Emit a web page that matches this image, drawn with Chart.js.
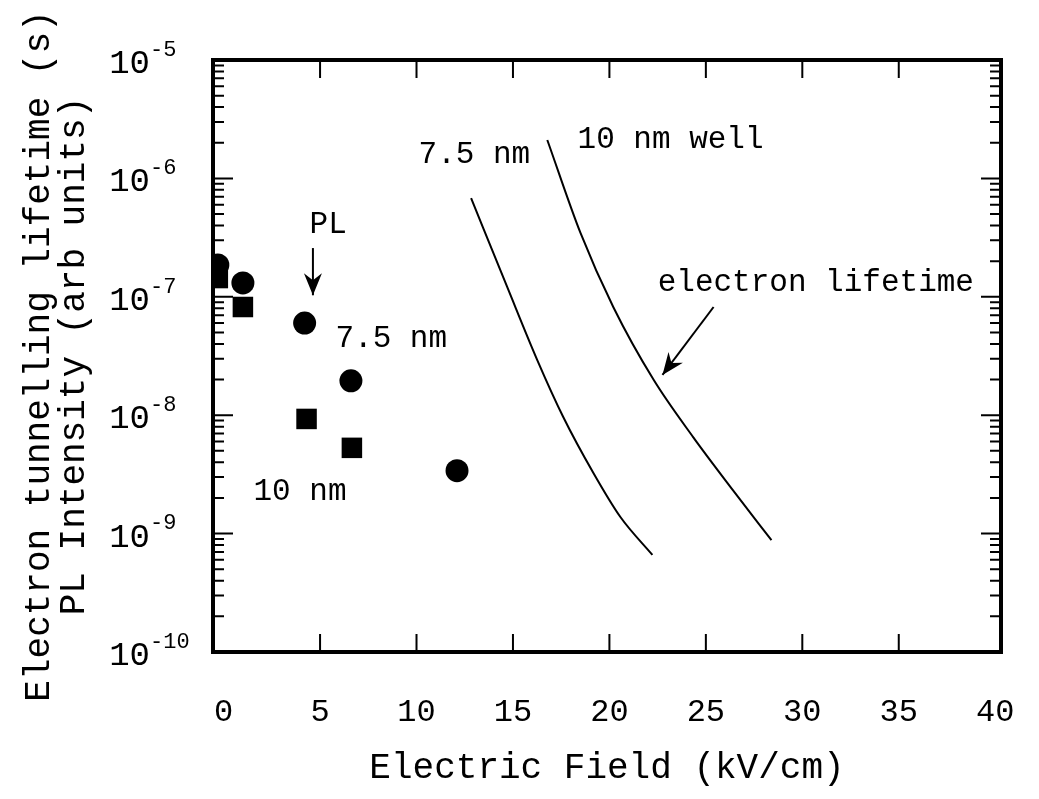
<html lang="en">
<head>
  <meta charset="UTF-8">
  <title>Electron tunnelling lifetime vs electric field</title>
  <script src="https://cdn.jsdelivr.net/npm/chart.js"></script>
  <style>
    html, body { margin: 0; padding: 0; background: #fff; }
    #wrap { width: 1039px; height: 799px; }
  </style>
</head>
<body>
  <div id="wrap"><canvas id="chart"></canvas></div>

  <script>
    // PL data points (x = field in kV/cm, y = intensity / lifetime)
    const circleX = [-0.3, 1.0, 4.2, 6.6, 12.1];
    const circleY = [1.86e-7, 1.31e-7, 6.0e-8, 1.95e-8, 3.4e-9];
    const squareX = [-0.3, 1.0, 4.3, 6.65];
    const squareY = [1.44e-7, 8.2e-8, 9.3e-9, 5.3e-9];

    // electron lifetime curves
    const well75X = [12.83, 14.7, 16.26, 17.6, 19.17, 20.57, 22.23];
    const well75Y = [6.8e-7, 1.21e-7, 2.92e-8, 9.7e-9, 3.25e-9, 1.38e-9, 6.6e-10];
    const well10X = [16.78, 18.5, 20.2, 22.3, 24.35, 26.4, 28.4];
    const well10Y = [2.11e-6, 3.46e-7, 8.2e-8, 1.98e-8, 6.5e-9, 2.33e-9, 8.8e-10];

    // axis ticks
    const xTicks = [0, 5, 10, 15, 20, 25, 30, 35, 40];
    const yExps = [-10, -9, -8, -7, -6, -5];

    // text labels in the plot (data coords)
    const noteText = ['7.5 nm', '10 nm well', 'electron lifetime', 'PL', '7.5 nm', '10 nm'];
    const noteX = [13.0, 23.17, 30.7, 5.42, 8.69, 3.96];
    const noteY = [1.58e-6, 2.1e-6, 1.31e-7, 4.04e-7, 4.4e-8, 2.24e-9];

    // arrows [x1, y1, x2, y2]
    const arrows = [
      [4.63, 2.58e-7, 4.63, 1.03e-7],
      [25.4, 8.2e-8, 22.75, 2.19e-8]
    ];

    const FONT = '"Liberation Mono", "DejaVu Sans Mono", monospace';

    function pts(xs, ys) {
      return xs.map((x, i) => ({ x: x, y: ys[i] }));
    }

    // frame, inner ticks, y tick labels, notes and arrows
    const extras = {
      id: 'extras',
      afterDraw(chart) {
        const ctx = chart.ctx;
        const xs = chart.scales.x;
        const ys = chart.scales.y;
        const a = chart.chartArea;
        ctx.save();
        ctx.strokeStyle = '#000';
        ctx.fillStyle = '#000';

        // inner x ticks top and bottom
        ctx.lineWidth = 2;
        xTicks.slice(1, -1).forEach(v => {
          const px = xs.getPixelForValue(v);
          ctx.beginPath();
          ctx.moveTo(px, a.bottom); ctx.lineTo(px, a.bottom - 18);
          ctx.moveTo(px, a.top); ctx.lineTo(px, a.top + 18);
          ctx.stroke();
        });

        // inner y ticks, left and right
        yExps.forEach(e => {
          for (let m = 1; m <= 9; m++) {
            const v = m * Math.pow(10, e);
            if (v > 1e-5 * 1.0001) continue;
            const py = ys.getPixelForValue(v);
            const len = m === 1 ? 20 : 11;
            ctx.beginPath();
            ctx.moveTo(a.left, py); ctx.lineTo(a.left + len, py);
            ctx.moveTo(a.right, py); ctx.lineTo(a.right - len, py);
            ctx.stroke();
          }
        });

        // frame
        ctx.lineWidth = 4;
        ctx.strokeRect(a.left, a.top, a.right - a.left, a.bottom - a.top);

        // y tick labels 10^e
        yExps.forEach(e => {
          const py = ys.getPixelForValue(Math.pow(10, e));
          ctx.font = '34px ' + FONT;
          ctx.textAlign = 'right';
          ctx.textBaseline = 'middle';
          ctx.fillText('10', 150, py + 4);
          ctx.font = '22px ' + FONT;
          ctx.textAlign = 'left';
          ctx.fillText(String(e), 150, py - 10);
        });

        // notes
        ctx.font = '31px ' + FONT;
        ctx.textAlign = 'center';
        ctx.textBaseline = 'middle';
        noteText.forEach((t, i) => {
          ctx.fillText(t, xs.getPixelForValue(noteX[i]), ys.getPixelForValue(noteY[i]));
        });

        // arrows
        ctx.lineWidth = 2;
        arrows.forEach(ar => {
          const x1 = xs.getPixelForValue(ar[0]), y1 = ys.getPixelForValue(ar[1]);
          const x2 = xs.getPixelForValue(ar[2]), y2 = ys.getPixelForValue(ar[3]);
          const ang = Math.atan2(y2 - y1, x2 - x1);
          ctx.beginPath();
          ctx.moveTo(x1, y1); ctx.lineTo(x2, y2);
          ctx.stroke();
          ctx.beginPath();
          ctx.moveTo(x2, y2);
          ctx.lineTo(x2 - 22 * Math.cos(ang) + 9 * Math.sin(ang), y2 - 22 * Math.sin(ang) - 9 * Math.cos(ang));
          ctx.lineTo(x2 - 15 * Math.cos(ang), y2 - 15 * Math.sin(ang));
          ctx.lineTo(x2 - 22 * Math.cos(ang) - 9 * Math.sin(ang), y2 - 22 * Math.sin(ang) + 9 * Math.cos(ang));
          ctx.closePath();
          ctx.fill();
        });
        ctx.restore();
      }
    };

    new Chart(document.getElementById('chart'), {
      type: 'scatter',
      data: {
        datasets: [
          {
            label: '7.5 nm PL',
            data: pts(circleX, circleY),
            pointStyle: 'circle',
            pointRadius: 11.5,
            backgroundColor: '#000',
            borderColor: '#000',
            borderWidth: 0
          },
          {
            label: '10 nm PL',
            data: pts(squareX, squareY),
            pointStyle: 'rect',
            pointRadius: 14.5,
            backgroundColor: '#000',
            borderColor: '#000',
            borderWidth: 0
          },
          {
            label: '7.5 nm lifetime',
            type: 'line',
            data: pts(well75X, well75Y),
            borderColor: '#000',
            borderWidth: 2,
            pointRadius: 0,
            fill: false,
            cubicInterpolationMode: 'monotone'
          },
          {
            label: '10 nm lifetime',
            type: 'line',
            data: pts(well10X, well10Y),
            borderColor: '#000',
            borderWidth: 2,
            pointRadius: 0,
            fill: false,
            cubicInterpolationMode: 'monotone'
          }
        ]
      },
      options: {
        responsive: true,
        maintainAspectRatio: false,
        animation: false,
        layout: { padding: { top: 60, right: 38, left: 0, bottom: 0 } },
        plugins: {
          legend: { display: false },
          tooltip: { enabled: false }
        },
        scales: {
          x: {
            type: 'linear',
            min: -0.55,
            max: 40.3,
            grid: { display: false, drawTicks: false },
            border: { display: false },
            afterBuildTicks: (s) => { s.ticks = xTicks.map(v => ({ value: v })); },
            afterFit: (s) => { s.height = 147; s.paddingLeft = 0; s.paddingRight = 0; },
            ticks: {
              color: '#000',
              padding: 41,
              maxRotation: 0,
              font: { family: FONT, size: 32 }
            },
            title: {
              display: true,
              text: 'Electric Field (kV/cm)',
              color: '#000',
              padding: { top: 0, bottom: 9 },
              font: { family: FONT, size: 36 }
            }
          },
          y: {
            type: 'logarithmic',
            min: 1e-10,
            max: 1e-5,
            grid: { display: false, drawTicks: false },
            border: { display: false },
            ticks: { display: false },
            afterFit: (s) => { s.width = 213; s.paddingTop = 0; s.paddingBottom = 0; },
            title: {
              display: true,
              text: ['Electron tunnelling lifetime (s)', 'PL Intensity (arb units)'],
              color: '#000',
              padding: { top: 22, bottom: 0 },
              font: { family: FONT, size: 36, lineHeight: 0.97 }
            }
          }
        }
      },
      plugins: [extras]
    });
  </script>
</body>
</html>
